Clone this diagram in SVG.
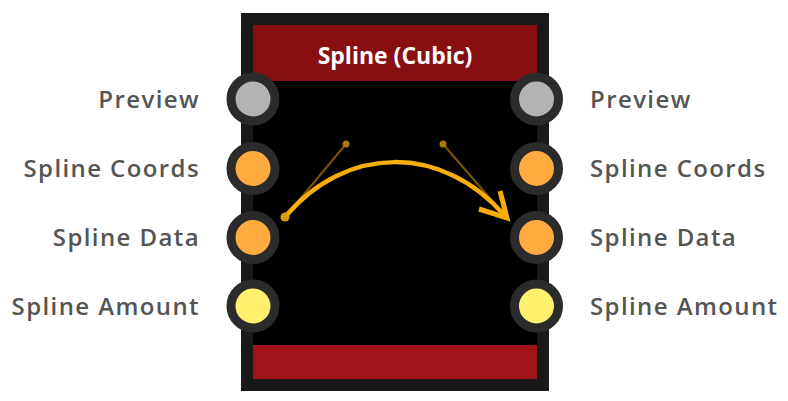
<svg xmlns="http://www.w3.org/2000/svg" width="788" height="401" viewBox="0 0 788 401">
<style>
.lbl{font-family:"Open Sans","Liberation Sans",sans-serif;font-weight:600;font-size:24px;letter-spacing:1.4px;fill:#555}
.l{text-anchor:end}
.ring{stroke:#2b2b2b;stroke-width:9}
.grey{fill:#b3b3b3}.org{fill:#ffab40}.yel{fill:#fff06e}
</style>
<rect width="788" height="401" fill="#fff"/>
<g id="node-body">
<rect x="241" y="13" width="308" height="378" fill="#191919"/>
<rect x="253" y="25" width="284" height="354" fill="#000"/>
<rect x="253" y="25" width="284" height="56" fill="#870f12"/>
<rect x="253" y="345" width="284" height="34" fill="#a01319"/>
<text x="395" y="64" text-anchor="middle" font-family="'Open Sans','Liberation Sans',sans-serif" font-weight="700" font-size="23" fill="#fff">Spline (Cubic)</text>
</g>
<g id="connectors" fill="none">
<path d="M285 217L346 144M507 218L443 144" stroke="#7a5600" stroke-width="2"/>
<path d="M285 217C346 144 443 144 505 216" stroke="#f7ae0c" stroke-width="4.500"/>
<path d="M500 191L507 218L479 209" stroke="#f7ae0c" stroke-width="5"/>
<circle cx="285" cy="217" r="4.500" fill="#e09a08"/>
<circle cx="346" cy="144" r="3.500" fill="#a87808"/>
<circle cx="443" cy="144" r="3.500" fill="#a87808"/>
</g>
<g id="port-preview-in"><circle class="ring grey" cx="253" cy="99" r="22"/><text class="lbl l" x="200" y="107.500">Preview</text></g>
<g id="port-coords-in"><circle class="ring org" cx="253" cy="168.500" r="22"/><text class="lbl l" x="200" y="177">Spline Coords</text></g>
<g id="port-data-in"><circle class="ring org" cx="253" cy="237.500" r="22"/><text class="lbl l" x="200" y="246">Spline Data</text></g>
<g id="port-amount-in"><circle class="ring yel" cx="253" cy="306" r="22"/><text class="lbl l" x="200" y="315">Spline Amount</text></g>
<g id="port-preview-out"><circle class="ring grey" cx="536.500" cy="99" r="22"/><text class="lbl" x="590" y="107.500">Preview</text></g>
<g id="port-coords-out"><circle class="ring org" cx="536.500" cy="168.500" r="22"/><text class="lbl" x="590" y="177">Spline Coords</text></g>
<g id="port-data-out"><circle class="ring org" cx="536.500" cy="237.500" r="22"/><text class="lbl" x="590" y="246">Spline Data</text></g>
<g id="port-amount-out"><circle class="ring yel" cx="536.500" cy="306" r="22"/><text class="lbl" x="590" y="315">Spline Amount</text></g>
</svg>
